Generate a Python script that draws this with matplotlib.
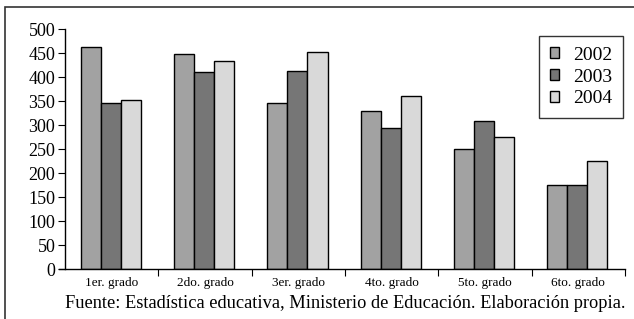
import numpy as np
import matplotlib.pyplot as plt
from matplotlib.patches import Rectangle

# Datos
grados = ["1er. grado", "2do. grado", "3er. grado", "4to. grado", "5to. grado", "6to. grado"]
anios = ["2002", "2003", "2004"]
v2002 = [463, 447, 346, 330, 250, 176]
v2003 = [345, 410, 413, 294, 308, 176]
v2004 = [353, 433, 452, 361, 276, 226]
colores = ["#a2a2a2", "#767676", "#d9d9d9"]

plt.rcParams['font.family'] = ['Liberation Serif', 'DejaVu Serif']

W, H = 634, 319
fig = plt.figure(figsize=(W / 100, H / 100), dpi=100)
ax = fig.add_axes([65 / W, (H - 269) / H, 560 / W, 240 / H])

x = np.arange(len(grados))
ancho = 0.215
for i, (vals, anio) in enumerate(zip([v2002, v2003, v2004], anios)):
    ax.bar(x + (i - 1) * ancho - 0.01, vals, ancho, color=colores[i], edgecolor="black",
           linewidth=1.0, label=anio)

ax.set_xlim(-0.5, len(grados) - 0.5)
ax.set_ylim(0, 500)
ax.set_yticks(range(0, 501, 50))
ax.tick_params(axis="y", labelsize=13, length=5, width=0.8, pad=2)
ax.set_xticks(x)
ax.set_xticklabels(grados, fontsize=9.5)
ax.tick_params(axis="x", length=0, pad=6)
ax.set_xticks(np.arange(0.5, len(grados), 1), minor=True)
ax.tick_params(axis="x", which="minor", length=5, width=0.8, direction="out")
ax.spines["top"].set_visible(False)
ax.spines["right"].set_visible(False)
ax.spines["left"].set_linewidth(1.0)
ax.spines["bottom"].set_linewidth(1.0)
ax.spines["bottom"].set_bounds(-0.56, len(grados) - 0.5)

leg = ax.legend(loc="upper right", bbox_to_anchor=(558 / 560, (269 - 36) / 240),
                borderaxespad=0, fontsize=14, frameon=True, fancybox=False,
                edgecolor="black", handlelength=0.5, handleheight=0.5,
                handletextpad=0.7, borderpad=0.55, labelspacing=0.25)
leg.get_frame().set_linewidth(1.0)
leg._legend_box.align = "left"

fig.text(345 / W, 1 - 303 / H, "Fuente: Estadística educativa, Ministerio de Educación. Elaboración propia.",
         ha="center", va="center", fontsize=13.2)

# Marco exterior
fig.add_artist(Rectangle((5 / W, -0.1), 1.2, 1 - 7 / H + 0.1, transform=fig.transFigure,
                         fill=False, edgecolor="#333333", linewidth=1.2))

fig.savefig("out.png", dpi=100)
